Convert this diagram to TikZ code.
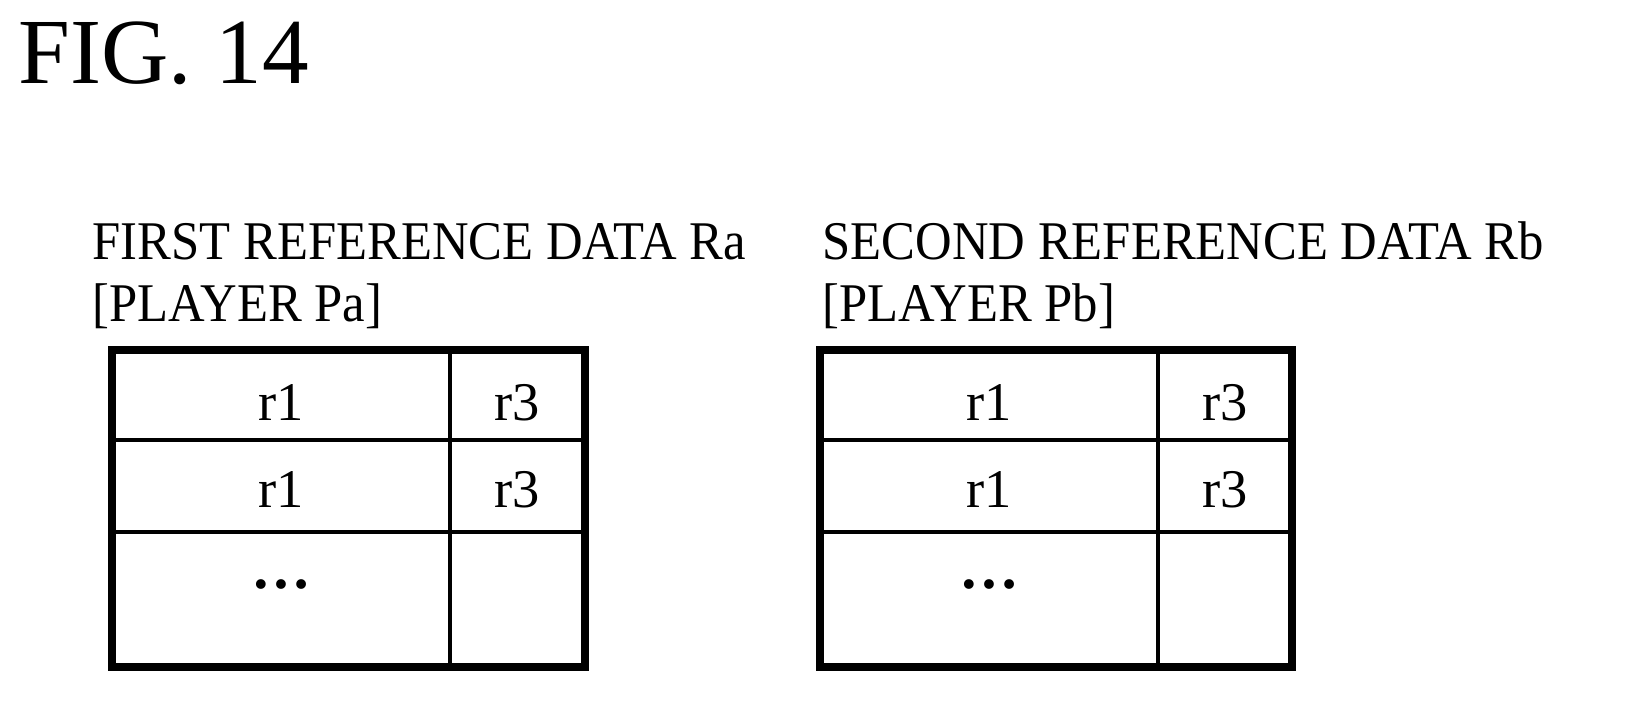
\documentclass[tikz,border=0pt]{standalone}
\usepackage{fontspec}
\setmainfont{Liberation Serif}
\begin{document}
\begin{tikzpicture}[x=0.01cm,y=-0.01cm,
  inner/.style={line width=1.2pt},
  hdr/.style={anchor=base west,inner sep=0pt,font=\fontsize{15.5}{18}\selectfont},
  cell/.style={inner sep=0pt,font=\fontsize{15.5}{18}\selectfont}]
\useasboundingbox (0,0) rectangle (1650,725);
\node[anchor=base west,inner sep=0pt,font=\fontsize{26.5}{30}\selectfont] (fig) at (18,84) {FIG. 14};
\foreach \n/\x/\t/\p in {a/92/FIRST REFERENCE DATA Ra/Pa, b/822/SECOND REFERENCE DATA Rb/Pb}{
  \node[hdr] (h\n) at (\x,260) {\scalebox{0.93}[1]{\t}};
  \node[hdr] (p\n) at (\x,322) {\scalebox{0.93}[1]{[PLAYER \p]}};
}
\foreach \n/\l/\m/\r in {a/112/450/585, b/820/1158/1292}{
  \draw[inner] (\l,440) -- (\r,440) (\l,532) -- (\r,532) (\m,350) -- (\m,667);
  \draw[line width=2.4pt] (\l,350) rectangle (\r,667);
  \node[cell] (c1\n) at ({(\l+\m)/2},403) {r1};
  \node[cell] (d1\n) at ({(\m+\r)/2},403) {r3};
  \node[cell] (c2\n) at ({(\l+\m)/2},490) {r1};
  \node[cell] (d2\n) at ({(\m+\r)/2},490) {r3};
  \node[cell,font=\fontsize{17}{18}\bfseries] (c3\n) at ({(\l+\m)/2},585) {…};
}
\end{tikzpicture}
\end{document}
